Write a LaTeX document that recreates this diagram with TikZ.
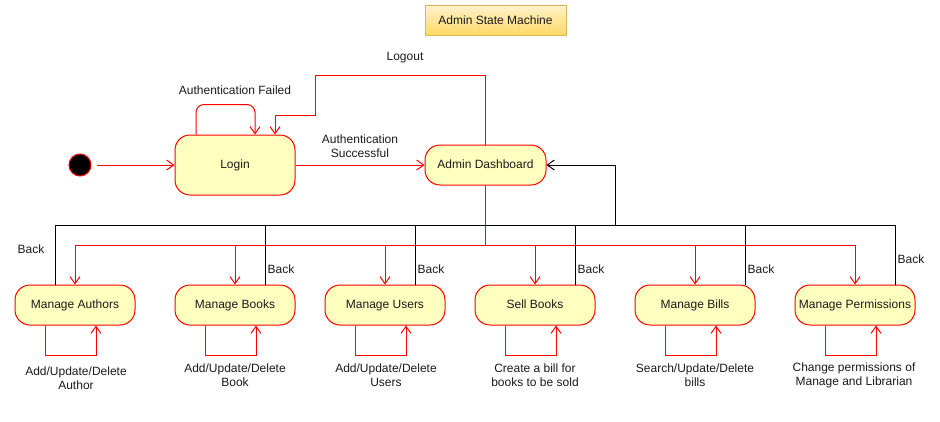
\documentclass[tikz,border=0pt]{standalone}
\usepackage{fontspec}
\setmainfont{Liberation Sans}
\usetikzlibrary{arrows.meta}
\definecolor{statefill}{HTML}{FFFFC0}
\definecolor{statered}{HTML}{FF0000}
\definecolor{titletop}{HTML}{FFF2CC}
\definecolor{titlebot}{HTML}{FFD966}
\definecolor{titleline}{HTML}{D6B656}
\definecolor{ink}{HTML}{1A1A1A}
\tikzset{
  statebox/.style={draw=statered, fill=statefill, line width=1pt, rounded corners=15pt,
    minimum width=120pt, minimum height=40pt, inner sep=2pt, text=ink,
    text height=9pt, text depth=2.5pt},
  titlebox/.style={draw=titleline, top color=titletop, bottom color=titlebot, line width=1pt,
    minimum width=141pt, minimum height=30pt, inner sep=2pt, text=ink},
  lbl/.style={text=ink, align=center, inner sep=0pt},
  redline/.style={draw=statered, line width=1pt},
  redarrow/.style={redline, -{Straight Barb[length=7pt,width=10pt]}},
  backline/.style={draw=black, line width=1pt},
  backarrow/.style={backline, -{Straight Barb[length=7pt,width=10pt]}},
}
\begin{document}
\begin{tikzpicture}[x=1pt, y=-1pt, font=\fontsize{12}{14}\selectfont]
  \useasboundingbox (0,0) rectangle (940,421);
  % title
  \node[titlebox] (title) at (495.5,20) {Admin State Machine};
  % top states
  \node[circle, fill=black, draw=statered, line width=1pt, minimum size=22pt, inner sep=0pt] (start) at (80,165) {};
  \node[statebox, minimum height=60pt] (login) at (235,165) {Login};
  \node[statebox, minimum width=121pt] (dash) at (485.5,165) {Admin Dashboard};
  % bottom states
  \node[statebox] (authors) at (75,305) {Manage Authors};
  \node[statebox] (books) at (235,305) {Manage Books};
  \node[statebox] (users) at (385,305) {Manage Users};
  \node[statebox] (sell) at (535,305) {Sell Books};
  \node[statebox] (bills) at (695,305) {Manage Bills};
  \node[statebox] (perms) at (855,305) {Manage Permissions};
  \coordinate (redbus) at (485.5,245);
  \coordinate (backbus) at (615,225);
  % login transitions
  \draw[redarrow, shorten <=5pt] (start) -- (login);
  \draw[redarrow] (login) -- node[lbl, above=7pt] {Authentication\\Successful} (dash);
  \draw[redarrow, rounded corners=8pt] ([xshift=-39pt]login.north) -- ++(0,-30) -| ([xshift=20pt]login.north);
  \node[lbl] (failed) at (235,90) {Authentication Failed};
  \draw[redarrow] (dash.north) |- (315,75) -- (315,115) -| ([xshift=40pt]login.north);
  \node[lbl] (logout) at (405,58) {Logout};
  % dashboard to pages
  \draw[redline] (dash.south) -- (redbus);
  \draw[redarrow] (redbus) -| (authors);
  \draw[redarrow] (redbus) -| (books);
  \draw[redarrow] (redbus) -| (users);
  \draw[redarrow] (redbus) -| (sell);
  \draw[redarrow] (redbus) -| (bills);
  \draw[redarrow] (redbus) -| (perms);
  % back to dashboard
  \draw[backline] ([xshift=-20pt]authors.north) |- (backbus);
  \draw[backline] ([xshift=30pt]books.north) |- (backbus);
  \draw[backline] ([xshift=30pt]users.north) |- (backbus);
  \draw[backline] ([xshift=40pt]sell.north) |- (backbus);
  \draw[backline] ([xshift=50pt]bills.north) |- (backbus);
  \draw[backline] ([xshift=40pt]perms.north) |- (backbus);
  \draw[backarrow] (backbus) |- (dash);
  \node[lbl] (backA) at (31,249) {Back};
  \node[lbl] (backB) at (281,269) {Back};
  \node[lbl] (backU) at (431,269) {Back};
  \node[lbl] (backS) at (591,269) {Back};
  \node[lbl] (backL) at (761,269) {Back};
  \node[lbl] (backP) at (911,259) {Back};
  % self loops
  \draw[redarrow] ([xshift=-30pt]authors.south) -- ++(0,30) -| ([xshift=21pt]authors.south);
  \draw[redarrow] ([xshift=-30pt]books.south) -- ++(0,30) -| ([xshift=21pt]books.south);
  \draw[redarrow] ([xshift=-30pt]users.south) -- ++(0,30) -| ([xshift=21pt]users.south);
  \draw[redarrow] ([xshift=-30pt]sell.south) -- ++(0,30) -| ([xshift=21pt]sell.south);
  \draw[redarrow] ([xshift=-30pt]bills.south) -- ++(0,30) -| ([xshift=21pt]bills.south);
  \draw[redarrow] ([xshift=-30pt]perms.south) -- ++(0,30) -| ([xshift=21pt]perms.south);
  \node[lbl] (doA) at (76,378) {Add/Update/Delete\\Author};
  \node[lbl] (doB) at (235,375) {Add/Update/Delete\\Book};
  \node[lbl] (doU) at (386,375) {Add/Update/Delete\\Users};
  \node[lbl] (doS) at (535,375) {Create a bill for\\books to be sold};
  \node[lbl] (doL) at (695,375) {Search/Update/Delete\\bills};
  \node[lbl] (doP) at (854,375) {Change permissions of\\Manage and Librarian};
\end{tikzpicture}
\end{document}
